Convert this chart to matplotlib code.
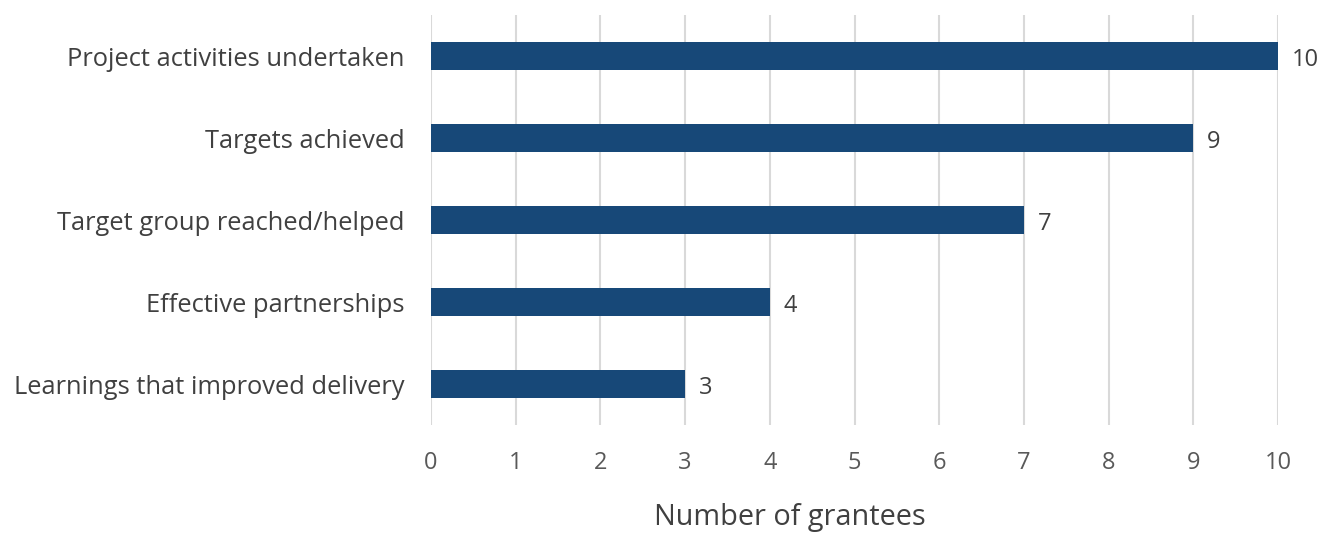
import matplotlib
matplotlib.use("Agg")
import matplotlib.pyplot as plt

categories = ["Project activities undertaken", "Targets achieved", "Target group reached/helped",
              "Effective partnerships", "Learnings that improved delivery"]
values = [10, 9, 7, 4, 3]
xticks = list(range(0, 11))
xlabel = "Number of grantees"

plt.rcParams['font.family'] = ['Open Sans', 'DejaVu Sans']
fig = plt.figure(figsize=(13.24, 5.33), dpi=100)
ax = fig.add_axes([431/1324, 1-425/533, (1278-431)/1324, (425-15)/533])

ypos = list(range(len(categories)))
bar_color = "#174878"
ax.barh(ypos, values, height=0.34, color=bar_color, zorder=3)
ax.set_ylim(len(categories)-0.5, -0.5)
ax.set_xlim(0, 10)
ax.set_xticks(xticks)
ax.set_xticklabels([str(t) for t in xticks], fontsize=17, color="#595959")
ax.set_yticks(ypos)
ax.set_yticklabels(categories, fontsize=18.4, color="#404040")
ax.tick_params(axis='both', length=0)
ax.tick_params(axis='x', pad=19)
ax.tick_params(axis='y', pad=19)
for s in ax.spines.values():
    s.set_visible(False)
ax.grid(axis='x', color="#d9d9d9", linewidth=1.5, zorder=0)
ax.set_axisbelow(True)

for y, v in zip(ypos, values):
    ax.annotate(str(v), (v, y), xytext=(10, -3), textcoords='offset points',
                va='center', ha='left', fontsize=17, color="#404040")

fig.text(790/1324, 1/533, xlabel, ha='center', va='bottom', fontsize=20.8, color="#404040")
fig.savefig("out.png", dpi=100)
